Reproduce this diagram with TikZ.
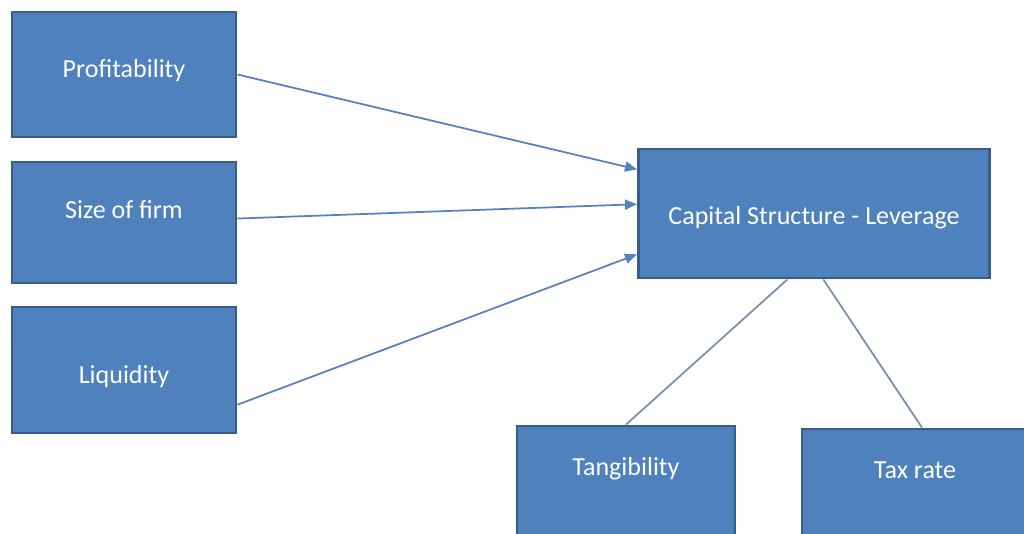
\documentclass[tikz,border=0pt]{standalone}
\usepackage{fontspec}
\setmainfont{Carlito}
\usepackage{xcolor}
\definecolor{boxblue}{HTML}{4F81BD}
\definecolor{boxedge}{HTML}{385D8A}
\definecolor{linkblue}{HTML}{5683BD}
\definecolor{tiegray}{HTML}{7A8FAE}
\usepackage{tikz}
\usetikzlibrary{arrows.meta}
\tikzset{
  >={Triangle[length=1.2mm,width=1mm]},
  block/.style ={draw=boxedge,fill=boxblue,line width=0.8pt,text=white,
                 font=\fontsize{7.4}{9}\selectfont,align=center,inner sep=0pt},
  lowblock/.style={block,text height=0.49cm,text depth=1cm,anchor=base},
  link/.style  ={->,draw=linkblue,line width=0.5pt},
  tie/.style   ={draw=tiegray,line width=0.5pt},
}

\begin{document}
\begin{tikzpicture}[x=0.01cm,y=-0.01cm]
\useasboundingbox (0,0) rectangle (1024,533);
% determinants
\node[block,minimum width=2.24cm,minimum height=1.25cm,text depth=0.13cm] (prof) at (124,74.5) {Profitability};
\node[block,minimum width=2.24cm,minimum height=1.21cm,text depth=0.25cm] (size) at (124,222.5) {Size of firm};
\node[block,minimum width=2.24cm,minimum height=1.26cm,text height=0.32cm] (liq)  at (124,370) {Liquidity};
% outcome
\node[block,minimum width=3.51cm,minimum height=1.29cm,text height=0.27cm] (cap) at (814,213.5) {Capital Structure - Leverage};
% lower boxes (run off the page)
\node[lowblock,minimum width=2.18cm] (tang) at (626,475) {Tangibility};
\node[lowblock,minimum width=2.26cm] (tax)  at (915,478) {Tax rate};
% arrows into leverage
\draw[link] (prof.east) -- (cap.166.7);
\draw[link] (size.2.3) -- (cap.177.6);
\draw[link] (liq.-17.4) -- (cap.-167.4);
% plain ties
\draw[tie] (tang.north) -- (cap.-112.7);
\draw[tie] ([xshift=0.07cm]tax.north) -- (cap.-82.9);
\end{tikzpicture}
\end{document}
